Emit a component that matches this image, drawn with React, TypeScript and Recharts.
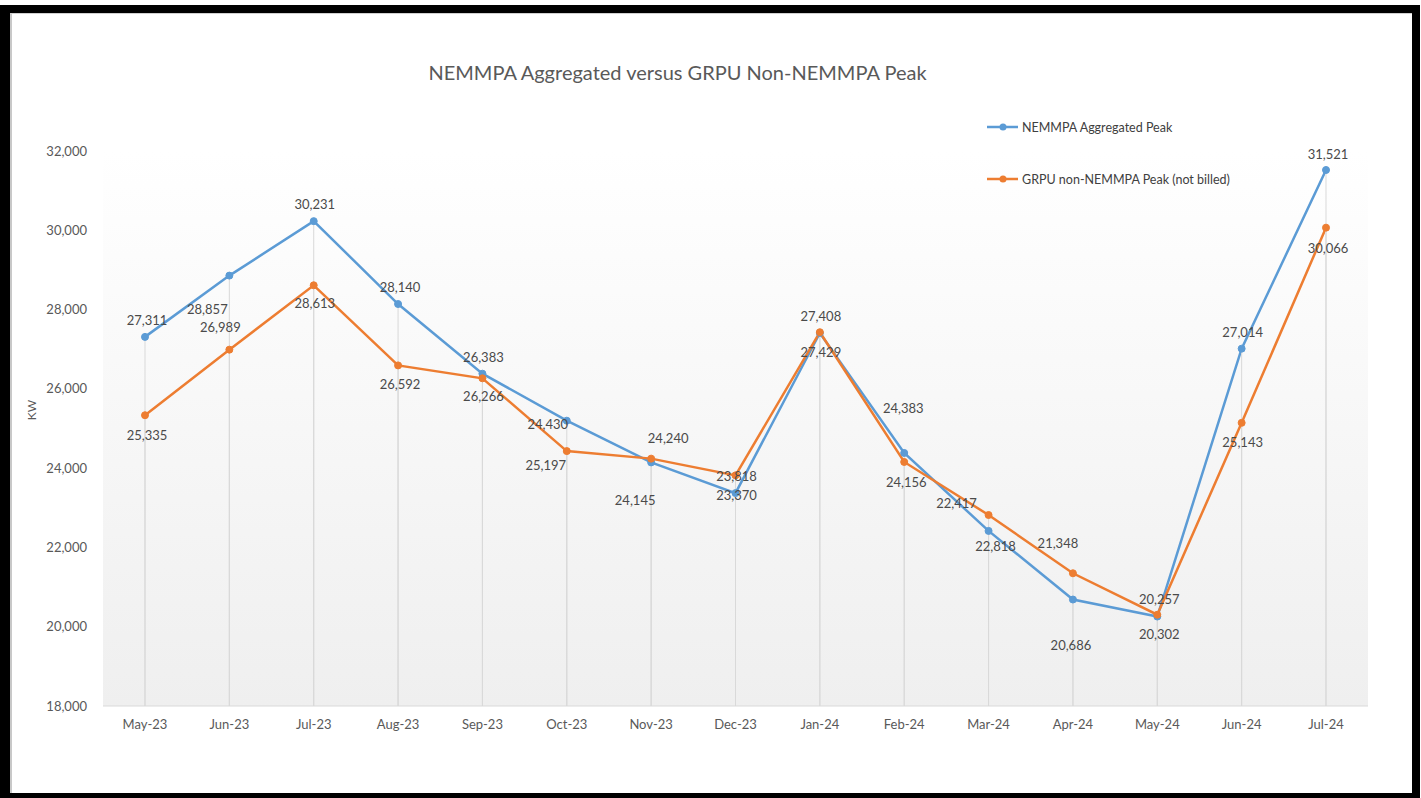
import { LineChart, Line, CartesianGrid, XAxis, YAxis, LabelList } from "recharts";

const months = [
  "May-23", "Jun-23", "Jul-23", "Aug-23", "Sep-23", "Oct-23", "Nov-23", "Dec-23",
  "Jan-24", "Feb-24", "Mar-24", "Apr-24", "May-24", "Jun-24", "Jul-24",
];

const aggregatedPeak = [
  27311, 28857, 30231, 28140, 26383, 25197, 24145, 23370,
  27408, 24383, 22417, 20686, 20257, 27014, 31521,
];

const grpuPeak = [
  25335, 26989, 28613, 26592, 26266, 24430, 24240, 23818,
  27429, 24156, 22818, 21348, 20302, 25143, 30066,
];

const yTicks = [18000, 20000, 22000, 24000, 26000, 28000, 30000, 32000];

const seriesNames = ["NEMMPA Aggregated Peak", "GRPU non-NEMMPA Peak (not billed)"];

// label placement (dx, dy from the point), as placed by hand in the original
const blueLabelOffsets = [
  [2, -17], [-22, 33], [1, -17], [2, -17], [1, -17], [-21, 44], [-16, 38], [1, 2],
  [1, -17], [-1, -45], [-32, -28], [-2, 45], [2, -18], [1, -17], [2, -16],
];
const orangeLabelOffsets = [
  [2, 20], [-9, -23], [1, 18], [2, 19], [1, 18], [-19, -27], [17, -21], [1, 1],
  [1, 20], [2, 20], [7, 31], [-15, -30], [2, 19], [1, 19], [2, 20],
];

const data = months.map((m, i) => ({
  month: m,
  agg: aggregatedPeak[i],
  grpu: grpuPeak[i],
}));

const BLUE = "#5b9bd5";
const ORANGE = "#ed7d31";
const FONT = "Lato, 'Open Sans', sans-serif";
const PLOT_TOP = 151;
const PLOT_BOTTOM = 706;

const fmt = (v: number) => v.toLocaleString("en-US");

const makeLabel = (offsets: number[][]) => (props: any) => {
  const { x, y, value, index } = props;
  const [dx, dy] = offsets[index] || [0, -16];
  return (
    <text
      key={`lbl-${index}`}
      x={x + dx}
      y={y + dy}
      textAnchor="middle"
      dominantBaseline="central"
      fill="#4a4a4a"
      fontSize={13}
      fontFamily={FONT}
    >
      {fmt(value)}
    </text>
  );
};

const dropLine = (props: any) => {
  const { cx, cy, index } = props;
  return (
    <line
      key={`drop-${index}`}
      x1={cx}
      x2={cx}
      y1={cy}
      y2={PLOT_BOTTOM}
      stroke="#d9d9d9"
      strokeWidth={1}
    />
  );
};

const LegendItem = ({ color, label, top }: { color: string; label: string; top: number }) => (
  <div style={{ position: "absolute", left: 986, top: top - 10, height: 20, display: "flex", alignItems: "center" }}>
    <svg width={34} height={20}>
      <line x1={1} x2={32} y1={10} y2={10} stroke={color} strokeWidth={2.5} />
      <circle cx={17} cy={10} r={3.5} fill={color} />
    </svg>
    <span style={{ fontFamily: FONT, fontSize: 12.5, color: "#404040", marginLeft: 2, whiteSpace: "nowrap" }}>{label}</span>
  </div>
);

export default function App() {
  return (
    <div style={{ position: "absolute", left: 0, top: 0, width: 1421, height: 798, background: "#fff" }}>
      {/* black frame */}
      <div
        style={{
          position: "absolute",
          left: 0,
          top: 5,
          width: 1420,
          height: 793,
          background: "#000",
        }}
      />
      <div
        style={{
          position: "absolute",
          left: 10,
          top: 13,
          width: 1402,
          height: 780,
          background: "#fff",
          boxSizing: "border-box",
          borderLeft: "2px solid #c8c8c8",
          borderTop: "1px solid #d0d0d0",
        }}
      />

      <div style={{ position: "absolute", left: 0, top: 0 }}>
        <LineChart
          width={1421}
          height={798}
          data={data}
          margin={{ top: PLOT_TOP, right: 53, bottom: 62, left: 43 }}
        >
          <defs>
            <linearGradient id="plotBg" x1="0" y1="0" x2="0" y2="1">
              <stop offset="0%" stopColor="#ffffff" />
              <stop offset="100%" stopColor="#efefef" />
            </linearGradient>
          </defs>
          <CartesianGrid horizontal={false} vertical={false} fill="url(#plotBg)" stroke="none" />
          <XAxis
            dataKey="month"
            height={30}
            padding={{ left: 42, right: 42 }}
            tickLine={false}
            tickMargin={8}
            axisLine={{ stroke: "#d9d9d9" }}
            tick={{ fill: "#595959", fontSize: 13, fontFamily: FONT }}
            interval={0}
          />
          <YAxis
            width={60}
            domain={[18000, 32000]}
            ticks={yTicks}
            tickFormatter={fmt}
            axisLine={false}
            tickLine={false}
            tickMargin={10}
            tick={{ fill: "#595959", fontSize: 13, fontFamily: FONT }}
          />
          <Line
            dataKey="agg"
            stroke="none"
            dot={dropLine}
            activeDot={false}
            legendType="none"
            isAnimationActive={false}
          />
          <Line
            dataKey="grpu"
            stroke="none"
            dot={dropLine}
            activeDot={false}
            legendType="none"
            isAnimationActive={false}
          />
          <Line
            dataKey="agg"
            name={seriesNames[0]}
            stroke={BLUE}
            strokeWidth={2.5}
            dot={{ r: 3.5, fill: BLUE, stroke: BLUE, strokeWidth: 1 }}
            activeDot={false}
            isAnimationActive={false}
          >
            <LabelList dataKey="agg" content={makeLabel(blueLabelOffsets)} />
          </Line>
          <Line
            dataKey="grpu"
            name={seriesNames[1]}
            stroke={ORANGE}
            strokeWidth={2.5}
            dot={{ r: 3.5, fill: ORANGE, stroke: ORANGE, strokeWidth: 1 }}
            activeDot={false}
            isAnimationActive={false}
          >
            <LabelList dataKey="grpu" content={makeLabel(orangeLabelOffsets)} />
          </Line>
        </LineChart>
      </div>

      <div
        style={{
          position: "absolute",
          left: 0,
          width: 1355,
          top: 60,
          textAlign: "center",
          fontFamily: FONT,
          fontSize: 20,
          color: "#595959",
          lineHeight: "24px",
        }}
      >
        NEMMPA Aggregated versus GRPU Non-NEMMPA Peak
      </div>

      <div
        style={{
          position: "absolute",
          left: 31,
          top: 410,
          transform: "translate(-50%, -50%) rotate(-90deg)",
          fontFamily: FONT,
          fontSize: 12,
          color: "#595959",
        }}
      >
        KW
      </div>

      <LegendItem color={BLUE} label={seriesNames[0]} top={127} />
      <LegendItem color={ORANGE} label={seriesNames[1]} top={179} />
    </div>
  );
}
